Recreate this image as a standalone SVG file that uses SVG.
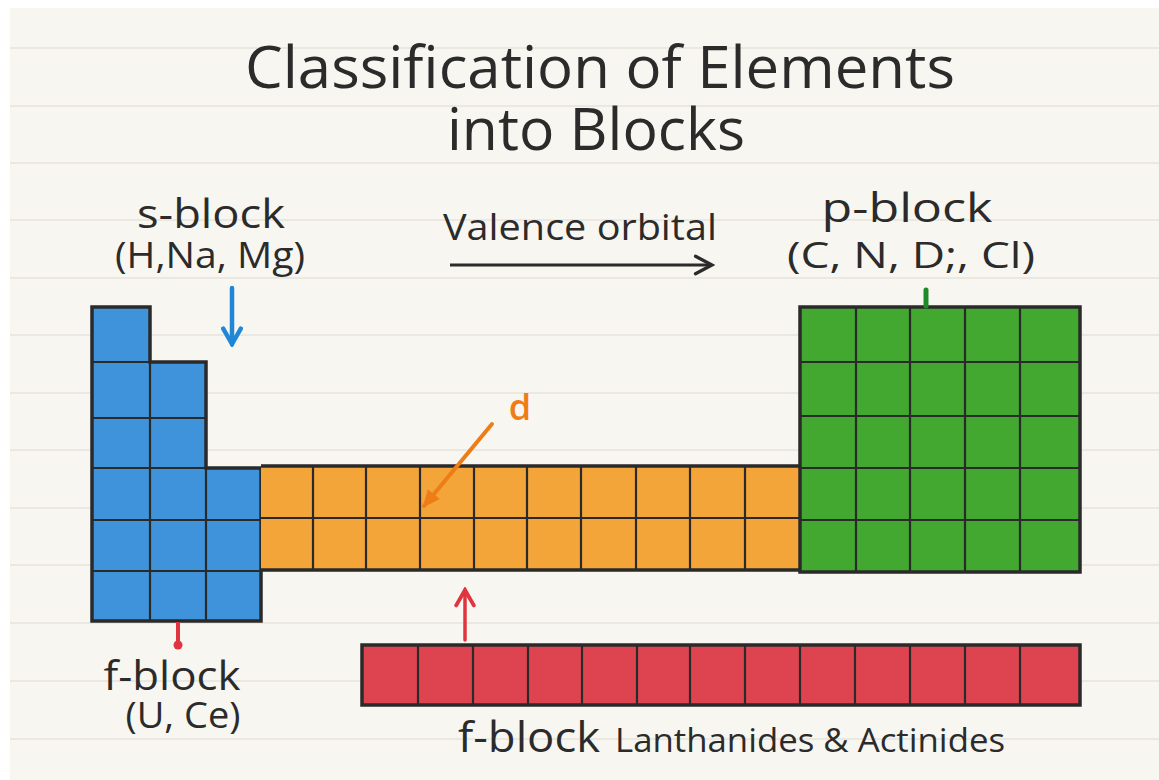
<svg xmlns="http://www.w3.org/2000/svg" width="1159" height="780" viewBox="0 0 1159 780">
<style>
.t{font-family:"Open Sans","Liberation Sans",sans-serif;fill:#2b2b2b;font-weight:500}
.grid{fill:none;stroke:#2a2a2a;stroke-width:2.2}
.out{fill:none;stroke:#2a2a2a;stroke-width:3.5;stroke-linejoin:miter}
.rule{stroke:#e6e3dc;stroke-width:1.5}
</style>
<defs>
<marker id="chevB" viewBox="0 0 20 20" refX="17" refY="10" markerWidth="22" markerHeight="22" markerUnits="userSpaceOnUse" orient="auto">
<path d="M2,2 L17,10 L2,18" fill="none" stroke="#2b2b2b" stroke-width="3" stroke-linecap="round"/>
</marker>
<marker id="chevBl" viewBox="0 0 20 20" refX="17" refY="10" markerWidth="22" markerHeight="22" markerUnits="userSpaceOnUse" orient="auto">
<path d="M3,2 L17,10 L3,18" fill="none" stroke="#1f86d8" stroke-width="4" stroke-linecap="round"/>
</marker>
<marker id="chevR" viewBox="0 0 20 20" refX="17" refY="10" markerWidth="22" markerHeight="22" markerUnits="userSpaceOnUse" orient="auto">
<path d="M3,2 L17,10 L3,18" fill="none" stroke="#e0343e" stroke-width="3.5" stroke-linecap="round"/>
</marker>
<marker id="triO" viewBox="0 0 20 20" refX="16" refY="10" markerWidth="22" markerHeight="22" markerUnits="userSpaceOnUse" orient="auto">
<path d="M2,3 L18,10 L2,17 Z" fill="#ee7d18"/>
</marker>
</defs>
<rect x="0" y="0" width="1159" height="780" fill="#ffffff"/>
<rect x="10" y="8" width="1149" height="772" fill="#f8f6f0"/>
<g id="rules">
<line class="rule" x1="10" y1="48" x2="1159" y2="48"/>
<line class="rule" x1="10" y1="106" x2="1159" y2="106"/>
<line class="rule" x1="10" y1="163" x2="1159" y2="163"/>
<line class="rule" x1="10" y1="220" x2="1159" y2="220"/>
<line class="rule" x1="10" y1="278" x2="1159" y2="278"/>
<line class="rule" x1="10" y1="335" x2="1159" y2="335"/>
<line class="rule" x1="10" y1="393" x2="1159" y2="393"/>
<line class="rule" x1="10" y1="450" x2="1159" y2="450"/>
<line class="rule" x1="10" y1="508" x2="1159" y2="508"/>
<line class="rule" x1="10" y1="565" x2="1159" y2="565"/>
<line class="rule" x1="10" y1="623" x2="1159" y2="623"/>
<line class="rule" x1="10" y1="681" x2="1159" y2="681"/>
<line class="rule" x1="10" y1="739" x2="1159" y2="739"/>
</g>
<g id="title">
<text class="t" x="600" y="88" font-size="58" text-anchor="middle" textLength="710" lengthAdjust="spacingAndGlyphs">Classification of Elements</text>
<text class="t" x="596" y="150" font-size="58" text-anchor="middle" textLength="298" lengthAdjust="spacingAndGlyphs">into Blocks</text>
</g>
<g id="s-block">
<path d="M92,307 H150 V362 H206 V468 H261 V621 H92 Z" fill="#3f93db"/>
<path class="grid" d="M92,362 H206 M92,418 H206 M92,468 H261 M92,520 H261 M92,571 H261 M150,362 V621 M206,468 V621"/>
<path class="out" d="M92,307 H150 V362 H206 V468 H261 V621 H92 Z"/>
<text class="t" x="211" y="228" font-size="40" text-anchor="middle" textLength="148" lengthAdjust="spacingAndGlyphs">s-block</text>
<text class="t" x="210" y="268" font-size="36" text-anchor="middle" textLength="190" lengthAdjust="spacingAndGlyphs">(H,Na, Mg)</text>
</g>
<g id="d-block">
<rect x="261" y="466" width="539" height="104" fill="#f3a53a"/>
<path class="grid" d="M261,518 H800 M313,466 V570 M366,466 V570 M420,466 V570 M474,466 V570 M527,466 V570 M581,466 V570 M636,466 V570 M690,466 V570 M745,466 V570"/>
<path class="out" d="M261,466 H800 M261,570 H800"/>
<text x="520" y="420" font-size="36" font-weight="600" text-anchor="middle" fill="#ee7d18" font-family="Open Sans, Liberation Sans, sans-serif">d</text>
</g>
<g id="p-block">
<rect x="800" y="307" width="280" height="265" fill="#42a830"/>
<path class="grid" d="M800,362 H1080 M800,416 H1080 M800,468 H1080 M800,520 H1080 M856,307 V572 M910,307 V572 M965,307 V572 M1020,307 V572"/>
<path class="out" d="M800,307 H1080 V572 H800 Z"/>
<text class="t" x="907" y="222" font-size="40" text-anchor="middle" textLength="171" lengthAdjust="spacingAndGlyphs">p-block</text>
<text class="t" x="911" y="268" font-size="36" text-anchor="middle" textLength="248" lengthAdjust="spacingAndGlyphs">(C, N, D;, Cl)</text>
</g>
<g id="f-block">
<rect x="362" y="645" width="718" height="60" fill="#dd4450"/>
<path class="grid" d="M418,645 V705 M473,645 V705 M528,645 V705 M582,645 V705 M637,645 V705 M690,645 V705 M745,645 V705 M800,645 V705 M855,645 V705 M910,645 V705 M965,645 V705 M1020,645 V705"/>
<path class="out" d="M362,645 H1080 V705 H362 Z"/>
<text class="t" x="172" y="690" font-size="40" text-anchor="middle" textLength="137" lengthAdjust="spacingAndGlyphs">f-block</text>
<text class="t" x="183" y="728" font-size="36" text-anchor="middle" textLength="115" lengthAdjust="spacingAndGlyphs">(U, Ce)</text>
<text class="t" x="458" y="752" font-size="42" textLength="142" lengthAdjust="spacingAndGlyphs">f-block</text>
<text class="t" x="615" y="752" font-size="32" textLength="390" lengthAdjust="spacingAndGlyphs">Lanthanides &amp; Actinides</text>
</g>
<g id="valence">
<text class="t" x="580" y="240" font-size="36" text-anchor="middle" textLength="274" lengthAdjust="spacingAndGlyphs">Valence orbital</text>
</g>
<g id="connectors">
<line x1="450" y1="265" x2="712" y2="265" stroke="#2b2b2b" stroke-width="3" marker-end="url(#chevB)"/>
<line x1="232" y1="288" x2="232" y2="344" stroke="#1f86d8" stroke-width="4.5" stroke-linecap="round" marker-end="url(#chevBl)"/>
<line x1="492" y1="424" x2="424" y2="506" stroke="#ee7d18" stroke-width="4" stroke-linecap="round" marker-end="url(#triO)"/>
<line x1="465" y1="640" x2="465" y2="590" stroke="#e0343e" stroke-width="3.5" stroke-linecap="round" marker-end="url(#chevR)"/>
<line x1="178" y1="622" x2="178" y2="643" stroke="#e0343e" stroke-width="4"/>
<circle cx="178" cy="645" r="4.5" fill="#e0343e"/>
<line x1="926" y1="290" x2="926" y2="306" stroke="#1e8a2a" stroke-width="5" stroke-linecap="round"/>
</g>
</svg>
